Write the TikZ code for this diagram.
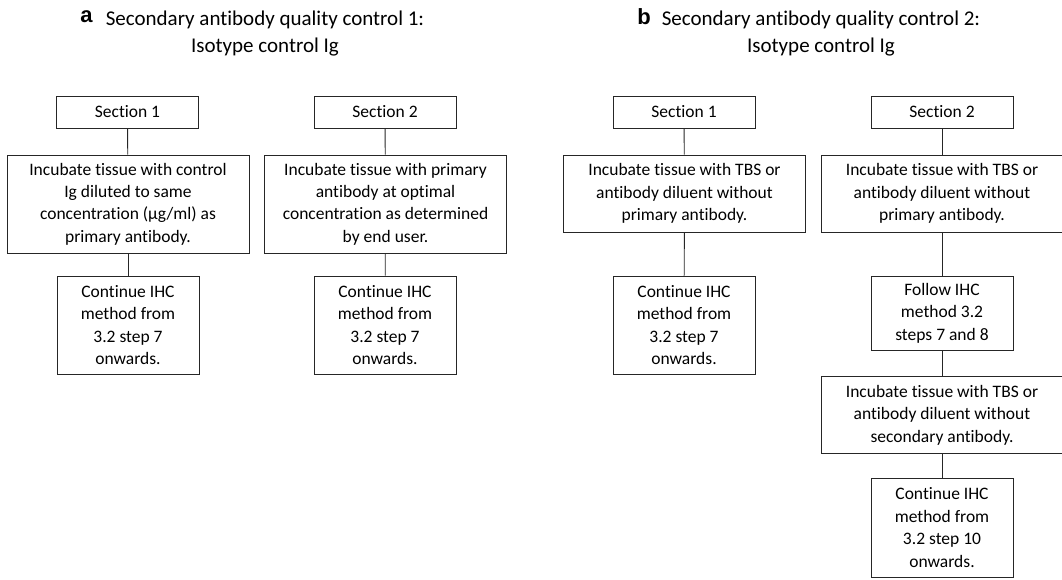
\documentclass[tikz,border=0pt]{standalone}
\usepackage{fontspec}
\setmainfont{Carlito}[Ligatures=NoCommon]
\newfontfamily\panelfont{Liberation Sans}
\usepackage{tikz}
\usetikzlibrary{positioning}

\tikzset{
	box/.style={draw=black!85, line width=0.9pt, align=center, inner sep=0pt,
		font=\fontsize{17.5}{22.4}\selectfont},
	sectbox/.style={box, minimum width=142pt, minimum height=32pt},
	widebox/.style={box, minimum width=242pt},
	smallbox/.style={box, minimum width=142pt, minimum height=98pt},
	link/.style={draw=black!85, line width=0.9pt},
	title/.style={align=center, font=\fontsize{21}{27.5}\selectfont},
	panel/.style={font=\panelfont\bfseries\fontsize{22}{26}\selectfont}
}

\begin{document}
\begin{tikzpicture}[x=1pt, y=-1pt]
	\useasboundingbox (0,0) rectangle (1062,579);

	% panel a
	\node[title] (ta) at (265,33.5) {Secondary antibody quality control 1:\\Isotype control Ig};
	\node[panel] (la) at (86.5,17) {a};
	\node[sectbox] (sa1) at (127.5,112) {Section 1};
	\node[sectbox] (sa2) at (385,112) {Section 2};
	\node[widebox, minimum height=98pt] (ia1) at (128,204) {Incubate tissue with control\\Ig diluted to same\\concentration (µg/ml) as\\primary antibody.};
	\node[widebox, minimum height=98pt] (ia2) at (385.5,204) {Incubate tissue with primary\\antibody at optimal\\concentration as determined\\by end user.};
	\node[smallbox] (ca1) at (128,325) {Continue IHC\\method from\\3.2 step 7\\onwards.};
	\node[smallbox] (ca2) at (385,325) {Continue IHC\\method from\\3.2 step 7\\onwards.};
	\draw[link] (sa1) -- (ia1);
	\draw[link] (ia1) -- (ca1);
	\draw[link] (sa2) -- (ia2);
	\draw[link] (ia2) -- (ca2);

	% panel b
	\node[title] (tb) at (821,33.5) {Secondary antibody quality control 2:\\Isotype control Ig};
	\node[panel] (lb) at (644,17) {b};
	\node[sectbox] (sb1) at (684,112) {Section 1};
	\node[sectbox] (sb2) at (942,112) {Section 2};
	\node[widebox, minimum height=77pt] (ib1) at (684.5,193.5) {Incubate tissue with TBS or\\antibody diluent without\\primary antibody.};
	\node[widebox, minimum height=77pt] (ib2) at (942,193.5) {Incubate tissue with TBS or\\antibody diluent without\\primary antibody.};
	\node[smallbox] (cb1) at (684,325) {Continue IHC\\method from\\3.2 step 7\\onwards.};
	\node[box, minimum width=142pt, minimum height=74pt] (fb) at (942,313) {Follow IHC\\method 3.2\\steps 7 and 8};
	\node[widebox, minimum height=77pt] (ib3) at (942,415) {Incubate tissue with TBS or\\antibody diluent without\\secondary antibody.};
	\node[smallbox, minimum height=99pt] (cb2) at (942,527.5) {Continue IHC\\method from\\3.2 step 10\\onwards.};
	\draw[link] (sb1) -- (ib1);
	\draw[link] (ib1) -- (cb1);
	\draw[link] (sb2) -- (ib2);
	\draw[link] (ib2) -- (fb);
	\draw[link] (fb) -- (ib3);
	\draw[link] (ib3) -- (cb2);
\end{tikzpicture}
\end{document}
